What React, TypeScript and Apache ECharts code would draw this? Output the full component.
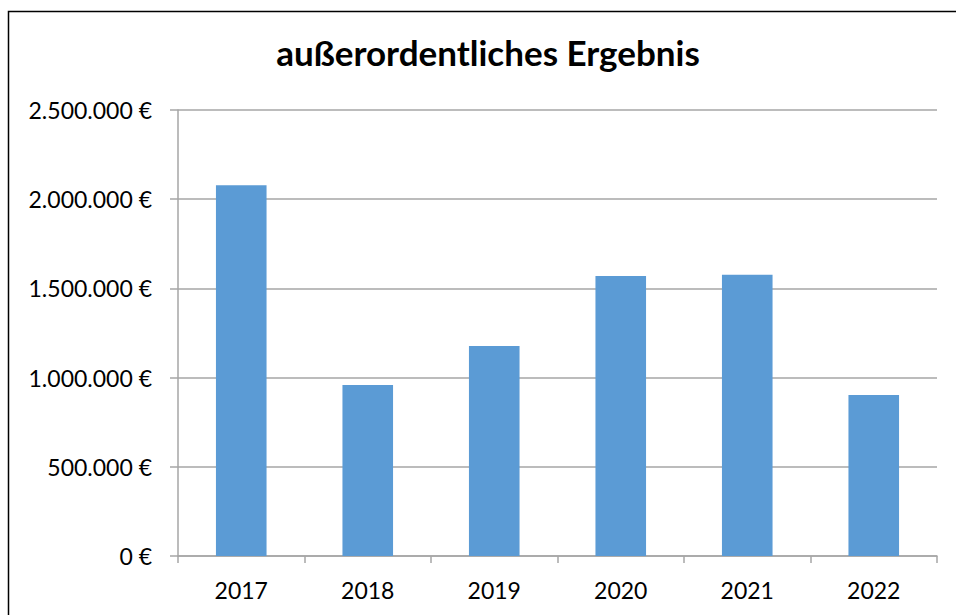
import React, { useEffect, useRef } from "react";
import * as echarts from "echarts";

const categories = ["2017", "2018", "2019", "2020", "2021", "2022"];
const values = [2078000, 958000, 1177000, 1570000, 1577000, 902000];
const yTicks = [0, 500000, 1000000, 1500000, 2000000, 2500000];
const title = "außerordentliches Ergebnis";

function fmt(v: number): string {
  const s = Math.round(v).toString().replace(/\B(?=(\d{3})+(?!\d))/g, ".");
  return s + " €";
}

export default function App() {
  const ref = useRef<HTMLDivElement>(null);
  useEffect(() => {
    if (!ref.current) return;
    const chart = echarts.init(ref.current, undefined, { renderer: "svg" });
    const font = "Lato, 'Open Sans', sans-serif";
    chart.setOption({
      animation: false,
      backgroundColor: "#ffffff",
      title: {
        text: title,
        left: 483,
        textAlign: "center",
        top: 29,
        textStyle: { fontFamily: font, fontWeight: "bold", fontSize: 35, color: "#000" },
      },
      graphic: [
        {
          type: "rect",
          shape: { x: 8.5, y: 11.5, width: 2000, height: 2000 },
          style: { fill: "none", stroke: "#000", lineWidth: 1.5 },
          silent: true,
        },
      ],
      grid: { left: 178, top: 110, right: 19, bottom: 59, containLabel: false },
      xAxis: {
        type: "category",
        data: categories,
        axisLine: { lineStyle: { color: "#a6a6a6", width: 1.5 } },
        axisTick: { show: true, length: 7, lineStyle: { color: "#a6a6a6", width: 1.5 } },
        axisLabel: { fontFamily: font, fontSize: 23, color: "#000", margin: 22 },
        splitLine: { show: false },
      },
      yAxis: {
        type: "value",
        min: yTicks[0],
        max: yTicks[yTicks.length - 1],
        interval: yTicks[1] - yTicks[0],
        axisLine: { show: true, lineStyle: { color: "#a6a6a6", width: 1.5 } },
        axisTick: { show: true, length: 8, lineStyle: { color: "#a6a6a6", width: 1.5 } },
        axisLabel: { fontFamily: font, fontSize: 23, color: "#000", margin: 26, formatter: (v: number) => fmt(v) },
        splitLine: { show: true, lineStyle: { color: "#a6a6a6", width: 1.5 } },
      },
      series: [
        {
          type: "bar",
          data: values,
          barWidth: "40%",
          itemStyle: { color: "#5b9bd5" },
        },
      ],
    });
    return () => chart.dispose();
  }, []);
  return (
    <div
      ref={ref}
      style={{ position: "fixed", left: 0, top: 0, width: 956, height: 615 }}
    />
  );
}
